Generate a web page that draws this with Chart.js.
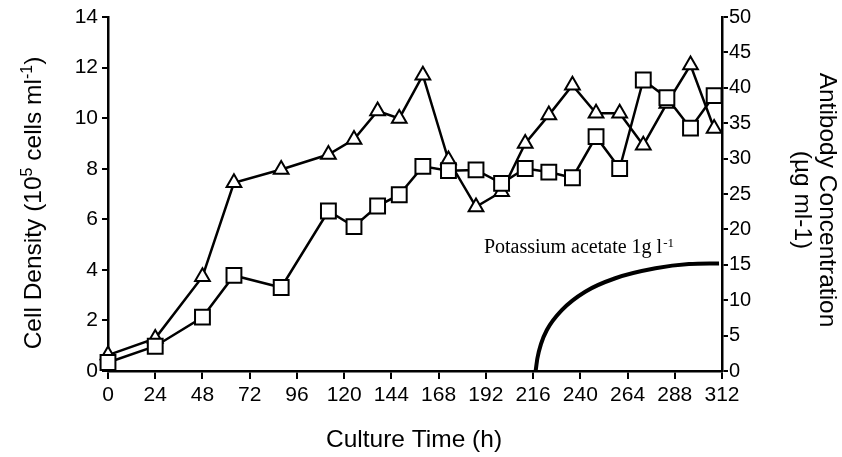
<!DOCTYPE html>
<html>
<head>
<meta charset="utf-8">
<script src="https://cdn.jsdelivr.net/npm/chart.js@4/dist/chart.umd.min.js"></script>
<style>
html,body{margin:0;padding:0;background:#fff;}
canvas{display:block;}
</style>
</head>
<body>
<canvas id="c" width="842" height="457"></canvas>
<script>
// Culture time (h) for sampled points
const hours = [0,24,48,64,88,112,125,137,148,160,173,187,200,212,224,236,248,260,272,284,296,308];
// Cell density (10^5 cells/ml) - triangles, left axis
const cellDensity = [0.63,1.29,3.73,7.44,7.97,8.56,9.16,10.28,9.99,11.7,8.34,6.49,7.09,9.0,10.12,11.3,10.19,10.19,8.93,10.58,12.1,9.59];
// Antibody concentration (ug/ml) - squares, right axis
const antibody = [1.2,3.5,7.6,13.5,11.8,22.6,20.4,23.3,24.9,28.9,28.3,28.4,26.5,28.6,28.1,27.3,33.1,28.6,41.1,38.6,34.3,38.9];
// Potassium acetate feed curve (right axis units)
const acetateHours = [217.3,218.2,220,223,230.6,242.5,257.8,278.2,295.2,310.5];
const acetateValues = [0,1.8,3.8,5.8,8.6,11.2,13.1,14.5,15.1,15.2];
// Tick labels
const xTicks = [0,24,48,72,96,120,144,168,192,216,240,264,288,312];
const leftTicks = [0,2,4,6,8,10,12,14];
const rightTicks = [0,5,10,15,20,25,30,35,40,45,50];

const SANS = '"Liberation Sans", Arial, sans-serif';
const SERIF = '"Liberation Serif", "Times New Roman", serif';

function pts(xs, ys){ return xs.map((x,i)=>({x:x, y:ys[i]})); }

const textPlugin = {
  id: 'texts',
  afterDraw(chart){
    const ctx = chart.ctx;
    const xs = chart.scales.x, yl = chart.scales.y;
    ctx.save();
    ctx.fillStyle = '#000';
    const big = 24.5, small = 16;
    // Left title, rotated
    const segs = [
      ['Cell Density (10', big, 0],
      ['5', small, 9.5],
      [' cells ml', big, 0],
      ['-1', small, 9.5],
      [')', big, 0]
    ];
    let total = 0;
    segs.forEach(s=>{ ctx.font = s[1]+'px '+SANS; total += ctx.measureText(s[0]).width; });
    ctx.save();
    ctx.translate(41, 203);
    ctx.rotate(-Math.PI/2);
    ctx.textBaseline = 'alphabetic';
    ctx.textAlign = 'left';
    let cx = -total/2;
    segs.forEach(s=>{ ctx.font = s[1]+'px '+SANS; ctx.fillText(s[0], cx, -s[2]); cx += ctx.measureText(s[0]).width; });
    ctx.restore();

    // Right title, rotated clockwise
    ctx.save();
    ctx.translate(820, 200);
    ctx.rotate(Math.PI/2);
    ctx.textAlign = 'center';
    ctx.textBaseline = 'alphabetic';
    ctx.font = big + 'px ' + SANS;
    ctx.fillText('Antibody Concentration', 0, 0);
    ctx.fillText('(\u00B5g ml-1)', 0, 25);
    ctx.restore();

    // X title
    ctx.font = big + 'px ' + SANS;
    ctx.textAlign = 'center';
    ctx.textBaseline = 'alphabetic';
    ctx.fillText('Culture Time (h)', 414, 447);

    // Annotation
    const ax = xs.getPixelForValue(191), ay = yl.getPixelForValue(4.66);
    ctx.textAlign = 'left';
    ctx.font = '20px ' + SERIF;
    const main = 'Potassium acetate 1g l';
    ctx.fillText(main, ax, ay);
    const w = ctx.measureText(main).width;
    ctx.font = '13px ' + SERIF;
    ctx.fillText('-1', ax + w + 1, ay - 6);
    ctx.restore();
  }
};

const axisBorder = {display: true, color: '#000', width: 2.5};
const axisGrid = {drawOnChartArea: false, drawTicks: true, color: '#000', lineWidth: 2, tickLength: 6};

new Chart(document.getElementById('c'), {
  type: 'line',
  data: {
    datasets: [
      {
        label: 'Antibody',
        data: pts(hours, antibody),
        yAxisID: 'y1',
        borderColor: '#000', borderWidth: 2.5,
        pointStyle: 'rect', pointRadius: 10.5, pointBorderWidth: 2,
        pointBackgroundColor: '#fff', pointBorderColor: '#000',
        tension: 0, fill: false, clip: false
      },
      {
        label: 'Cell density',
        data: pts(hours, cellDensity),
        yAxisID: 'y',
        borderColor: '#000', borderWidth: 2.5,
        pointStyle: 'triangle', pointRadius: 8.5, pointBorderWidth: 2,
        pointBackgroundColor: '#fff', pointBorderColor: '#000',
        tension: 0, fill: false, clip: false
      },
      {
        label: 'Potassium acetate',
        data: pts(acetateHours, acetateValues),
        yAxisID: 'y1',
        borderColor: '#000', borderWidth: 4,
        pointRadius: 0, cubicInterpolationMode: 'monotone', fill: false
      }
    ]
  },
  options: {
    responsive: false,
    animation: false,
    devicePixelRatio: 1,
    layout: {padding: {top: 17, left: 0, right: 0, bottom: 0}},
    plugins: {legend: {display: false}, tooltip: {enabled: false}},
    scales: {
      x: {
        type: 'linear', min: 0, max: 312,
        afterBuildTicks: s => { s.ticks = xTicks.map(v=>({value:v})); },
        ticks: {color: '#000', font: {family: SANS, size: 21}, padding: 4, maxRotation: 0, autoSkip: false},
        border: axisBorder,
        grid: Object.assign({}, axisGrid, {tickLength: 8}),
        afterFit: s => { s.height = 86; }
      },
      y: {
        position: 'left', min: 0, max: 14,
        afterBuildTicks: s => { s.ticks = leftTicks.map(v=>({value:v})); },
        ticks: {color: '#000', font: {family: SANS, size: 21}, padding: 4},
        border: axisBorder,
        grid: axisGrid,
        afterFit: s => { s.width = 108; }
      },
      y1: {
        position: 'right', min: 0, max: 50,
        afterBuildTicks: s => { s.ticks = rightTicks.map(v=>({value:v})); },
        ticks: {color: '#000', font: {family: SANS, size: 20}, padding: 1},
        border: axisBorder,
        grid: axisGrid,
        afterFit: s => { s.width = 120; }
      }
    }
  },
  plugins: [textPlugin]
});
</script>
</body>
</html>
